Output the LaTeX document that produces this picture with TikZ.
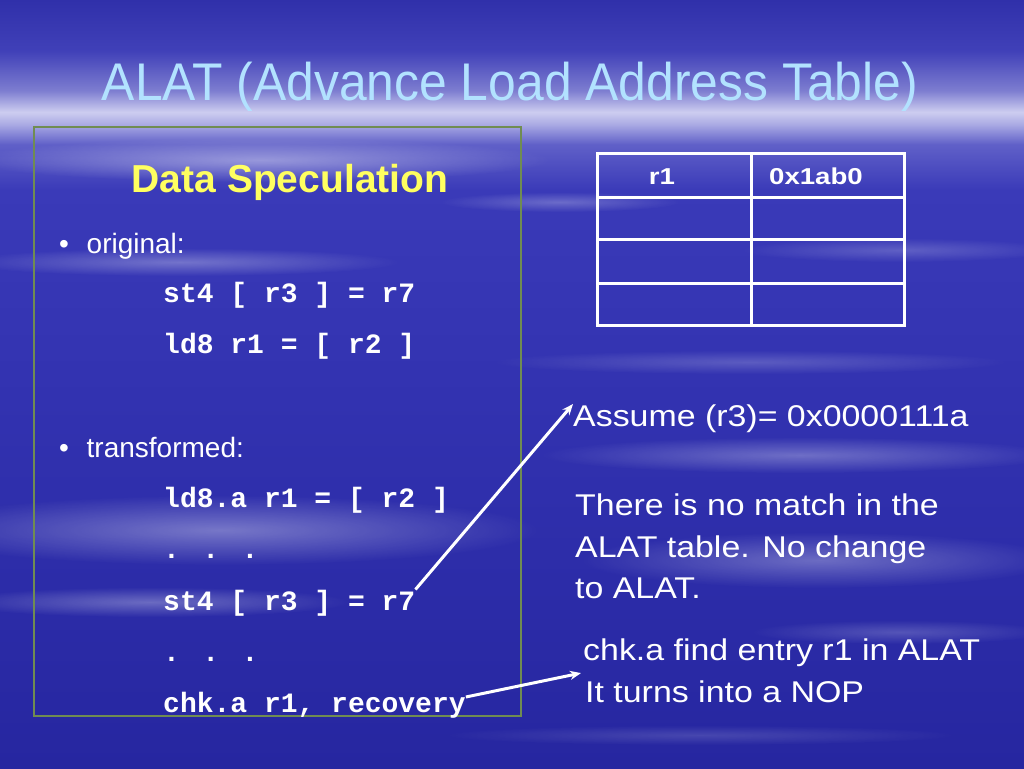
\documentclass[tikz,border=0pt]{standalone}
\usepackage{fontspec}
\setmainfont{Liberation Sans}
\newfontfamily\titlefont[FakeStretch=0.94]{Liberation Sans}
\newfontfamily\notefont[FakeStretch=1.13]{Liberation Sans}
\newfontfamily\cellfont[FakeStretch=1.2]{Liberation Sans}
\newfontfamily\codefont{Liberation Mono}
\usetikzlibrary{arrows.meta, fadings}

\definecolor{skytop}{RGB}{48,48,170}
\definecolor{skyhigh}{RGB}{64,64,184}
\definecolor{skyhaze}{RGB}{125,125,208}
\definecolor{skylight}{RGB}{205,205,240}
\definecolor{skyfall}{RGB}{170,170,228}
\definecolor{skyband}{RGB}{96,96,200}
\definecolor{skymid}{RGB}{58,58,184}
\definecolor{skylow}{RGB}{50,50,176}
\definecolor{skybottom}{RGB}{38,38,160}
\definecolor{titleblue}{RGB}{178,226,255}
\definecolor{headyellow}{RGB}{255,255,96}
\definecolor{boxgreen}{RGB}{112,140,82}

\pgfdeclareverticalshading{slidesky}{100bp}{color(0bp)=(skybottom); color(25bp)=(skybottom);
  color(49bp)=(skylow); color(62.6bp)=(skymid); color(65.6bp)=(skyband); color(66.9bp)=(skyfall);
  color(67.7bp)=(skylight); color(69.1bp)=(skyhaze); color(71.7bp)=(skyhigh); color(75bp)=(skytop);
  color(100bp)=(skytop)}
\tikzfading[name=haze, inner color=transparent!0, outer color=transparent!100]

\begin{document}
\begin{tikzpicture}[x=1pt, y=-1pt,
  code/.style={anchor=base west, inner sep=0pt, text=white, font=\codefont\bfseries\fontsize{28}{28}\selectfont},
  item/.style={anchor=base west, inner sep=0pt, text=white, font=\fontsize{28}{28}\selectfont},
  note/.style={anchor=base west, inner sep=0pt, text=white, font=\notefont\fontsize{30}{30}\selectfont},
  cell/.style={anchor=base, inner sep=0pt, text=white, font=\cellfont\bfseries\fontsize{23}{23}\selectfont},
  grid/.style={draw=white, line width=3pt},
  pointer/.style={draw=white, line width=3pt, -{Stealth[length=11pt, width=9pt]}}]
\useasboundingbox (0,0) rectangle (1024,768);
\shade[shading=slidesky] (0,0) rectangle (1024,768);
\foreach \cx/\cy/\rx/\ry/\op in {260/160/290/22/0.4, 560/202/120/10/0.25, 180/262/220/14/0.3,
    900/250/160/12/0.2, 750/362/260/12/0.2, 800/455/260/18/0.3, 220/530/320/35/0.35,
    820/560/240/28/0.3, 150/602/200/15/0.3, 900/632/150/12/0.2, 700/735/260/10/0.15}
  \fill[white, opacity=\op, path fading=haze] (\cx,\cy) ellipse ({\rx} and {\ry});

\node[anchor=base, inner sep=0pt, text=titleblue, font=\titlefont\fontsize{53}{53}\selectfont] (title) at (510,100) {ALAT (Advance Load Address Table)};

\draw[draw=boxgreen, line width=1.2pt] (34,127) rectangle (521,716);
\node[anchor=base, inner sep=0pt, text=headyellow, font=\bfseries\fontsize{39}{39}\selectfont] (head) at (290,192) {Data Speculation};

\node[item] (orig) at (59,253) {\makebox[27.5pt][l]{•}original:};
\node[code] (st4a) at (163,302) {st4 [ r3 ] = r7};
\node[code] (ld8a) at (163,353) {ld8 r1 = [ r2 ]};
\node[item] (trans) at (59,457) {\makebox[27.5pt][l]{•}transformed:};
\node[code] (ld8b) at (163,507) {ld8.a r1 = [ r2 ]};
\node[code] (dotsa) at (163,558) {. . .};
\node[code] (st4b) at (163,610) {st4 [ r3 ] = r7};
\node[code] (dotsb) at (163,661) {. . .};
\node[code] (chk) at (163,712) {chk.a r1, recovery};

\draw[grid] (597,153) rectangle (904,325);
\foreach \y in {197,239,283}
  \draw[grid] (597,\y) -- (904,\y);
\draw[grid] (751,153) -- (751,325);
\node[cell] (reg) at (662,184) {r1};
\node[cell] (addr) at (816,184) {0x1ab0};

\node[note] (assume) at (573,426) {Assume (r3)= 0x0000111a};
\node[note] (match) at (575,515) {There is no match in the};
\node[note] (table) at (575,557) {ALAT table. No change};
\node[note] (change) at (575,598) {to ALAT.};
\node[note] (find) at (583,660) {chk.a find entry r1 in ALAT};
\node[note] (nop) at (585,702) {It turns into a NOP};

\draw[pointer] (st4b.north east) -- (assume.north west);
\draw[pointer] ([yshift=15pt]chk.base east) -- ([xshift=-4pt, yshift=7pt]nop.north west);
\end{tikzpicture}
\end{document}
